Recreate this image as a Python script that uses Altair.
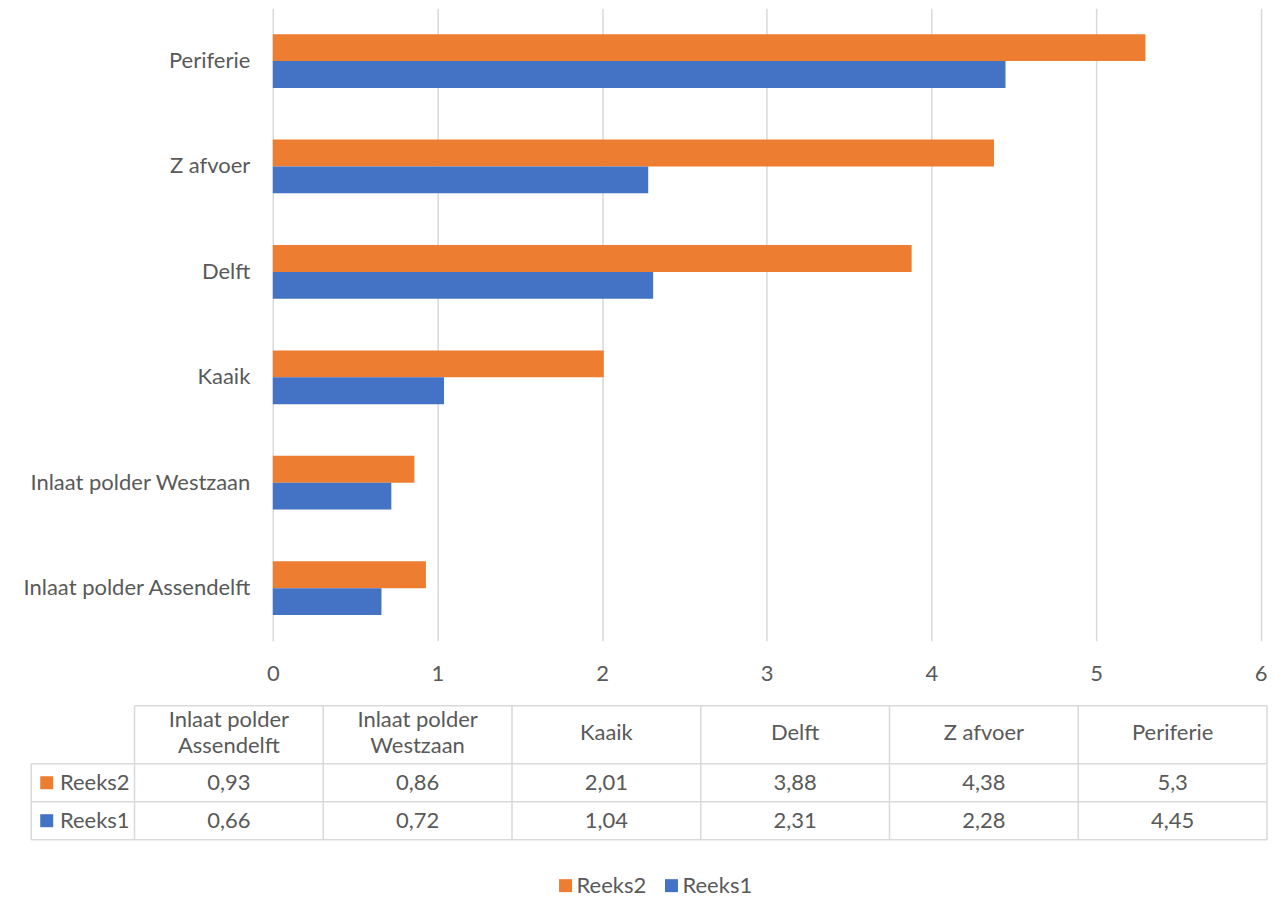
import altair as alt
import pandas as pd

# ---------------- data ----------------
categories = ["Inlaat polder Assendelft", "Inlaat polder Westzaan", "Kaaik",
              "Delft", "Z afvoer", "Periferie"]
table_headers = [["Inlaat polder", "Assendelft"], ["Inlaat polder", "Westzaan"], ["Kaaik"],
                 ["Delft"], ["Z afvoer"], ["Periferie"]]
reeks2 = [0.93, 0.86, 2.01, 3.88, 4.38, 5.3]
reeks1 = [0.66, 0.72, 1.04, 2.31, 2.28, 4.45]
series_names = ["Reeks2", "Reeks1"]
series_values = [reeks2, reeks1]
x_ticks = [0, 1, 2, 3, 4, 5, 6]

# ---------------- style ----------------
series_colors = ["#ED7D31", "#4472C4"]
FONT = "Lato"
FS = 22
TEXT = "#595959"
GRID = "#D9D9D9"

# ---------------- bar chart ----------------
rows = []
for i, c in enumerate(categories):
    for s, vals in zip(series_names, series_values):
        rows.append({"cat": c, "series": s, "value": vals[i]})
bars_df = pd.DataFrame(rows)

color_scale = alt.Scale(domain=series_names, range=series_colors)

bars = alt.Chart(bars_df).mark_bar().encode(
    y=alt.Y("cat:N", sort=list(reversed(categories)),
            scale=alt.Scale(paddingInner=0.49, paddingOuter=0.245),
            axis=alt.Axis(title=None, ticks=False, tickSize=0, domain=False, grid=False,
                          labelPadding=23, minExtent=262, maxExtent=262, labelLimit=400,
                          labelFont=FONT, labelFontSize=FS, labelColor=TEXT)),
    yOffset=alt.YOffset("series:N", sort=series_names),
    x=alt.X("value:Q", scale=alt.Scale(domain=[0, 6], nice=False),
            axis=alt.Axis(values=x_ticks, format="d", title=None, ticks=False, tickSize=0,
                          domain=False, grid=True, gridColor=GRID, gridWidth=1.5,
                          labelFlush=False, labelPadding=23, labelFont=FONT,
                          labelFontSize=FS, labelColor=TEXT)),
    color=alt.Color("series:N", scale=color_scale,
                    legend=alt.Legend(title=None, orient="none", direction="horizontal",
                                      legendX=282, legendY=867, padding=0,
                                      symbolType="square", symbolSize=169,
                                      symbolStrokeWidth=0, labelOffset=0,
                                      columnPadding=14, labelFont=FONT,
                                      labelFontSize=FS, labelColor=TEXT)),
).properties(width=988.7, height=633)

# ---------------- data table ----------------
n = len(categories)
COL_PX = 188.9              # width of one table column in pixels
TABLE_W = 995               # table plot width (its origin is aligned with the bar plot)
HEADER_H = 58 / 38          # header row height in row units
LINE_H = 26 / 38            # header text line height in row units
LABEL_COL = 0.547           # width of the series-label column in column units
X_MIN = n - TABLE_W / COL_PX
Y_MAX = HEADER_H + len(series_names)

lines = []
for i in range(n + 1):
    lines.append({"x": i, "x2": i, "y": 0, "y2": Y_MAX})
lines.append({"x": -LABEL_COL, "x2": -LABEL_COL, "y": HEADER_H, "y2": Y_MAX})
lines.append({"x": 0, "x2": n, "y": 0, "y2": 0})
for r in range(len(series_names) + 1):
    yy = HEADER_H + r
    lines.append({"x": -LABEL_COL, "x2": n, "y": yy, "y2": yy})
lines_df = pd.DataFrame(lines)

head_rows = []
for i, parts in enumerate(table_headers):
    m = len(parts)
    for k, txt in enumerate(parts):
        head_rows.append({"x": i + 0.5,
                          "y": HEADER_H / 2 - 0.04 + (k - (m - 1) / 2) * LINE_H,
                          "t": txt})
head_df = pd.DataFrame(head_rows)

val_rows = []
lab_rows = []
for r, (s, vals) in enumerate(zip(series_names, series_values)):
    for i, v in enumerate(vals):
        val_rows.append({"x": i + 0.5, "y": HEADER_H + r + 0.5,
                         "t": f"{v:g}".replace(".", ",")})
    lab_rows.append({"series": s, "y": HEADER_H + r + 0.5,
                     "xs": -LABEL_COL + 0.082, "xt": -LABEL_COL + 0.152})
val_df = pd.DataFrame(val_rows)
lab_df = pd.DataFrame(lab_rows)

xsc = alt.Scale(domain=[X_MIN, n], nice=False, zero=False)
ysc = alt.Scale(domain=[0, Y_MAX], nice=False, zero=False, reverse=True)

grid_rules = alt.Chart(lines_df).mark_rule(color=GRID, strokeWidth=1.5).encode(
    x=alt.X("x:Q", scale=xsc, axis=None), x2="x2:Q",
    y=alt.Y("y:Q", scale=ysc, axis=None), y2="y2:Q")

head_text = alt.Chart(head_df).mark_text(
    font=FONT, fontSize=FS, color=TEXT, align="center", baseline="middle").encode(
    x=alt.X("x:Q", scale=xsc, axis=None), y=alt.Y("y:Q", scale=ysc, axis=None), text="t:N")

val_text = alt.Chart(val_df).mark_text(
    font=FONT, fontSize=FS, color=TEXT, align="center", baseline="middle").encode(
    x=alt.X("x:Q", scale=xsc, axis=None), y=alt.Y("y:Q", scale=ysc, axis=None), text="t:N")

lab_sq = alt.Chart(lab_df).mark_point(shape="square", filled=True, size=169, opacity=1).encode(
    x=alt.X("xs:Q", scale=xsc, axis=None), y=alt.Y("y:Q", scale=ysc, axis=None),
    color=alt.Color("series:N", scale=color_scale, legend=None))

lab_text = alt.Chart(lab_df).mark_text(
    font=FONT, fontSize=FS, color=TEXT, align="left", baseline="middle").encode(
    x=alt.X("xt:Q", scale=xsc, axis=None), y=alt.Y("y:Q", scale=ysc, axis=None),
    text="series:N")

table = alt.layer(grid_rules, head_text, val_text, lab_sq, lab_text).properties(
    width=TABLE_W, height=134)

chart = alt.vconcat(bars, table, spacing=20).properties(
    padding={"left": 3, "top": 0, "right": 5, "bottom": 0}
).configure_view(stroke=None)

chart.save("out.html", embed_options={"renderer": "svg", "actions": False})
